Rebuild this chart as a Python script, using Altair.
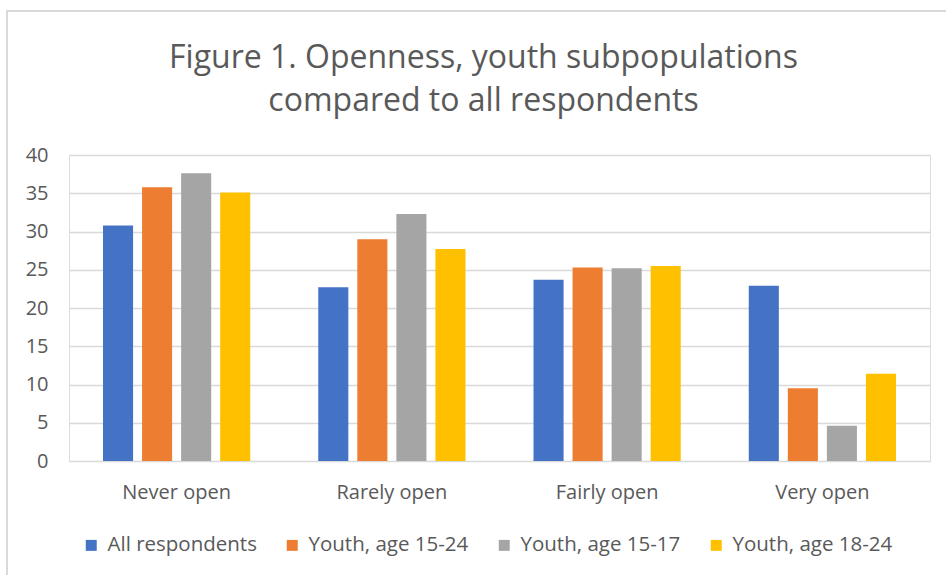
import altair as alt
import pandas as pd

# Openness categories and survey groups
categories = ["Never open", "Rarely open", "Fairly open", "Very open"]
groups = ["All respondents", "Youth, age 15-24", "Youth, age 15-17", "Youth, age 18-24"]
colors = ["#4472C4", "#ED7D31", "#A5A5A5", "#FFC000"]

# Percent of respondents per category, one list per group
all_respondents = [30.8, 22.7, 23.7, 22.9]
youth_15_24 = [35.8, 29.0, 25.3, 9.5]
youth_15_17 = [37.6, 32.3, 25.2, 4.6]
youth_18_24 = [35.1, 27.7, 25.5, 11.4]

series = [all_respondents, youth_15_24, youth_15_17, youth_18_24]
rows = []
for g, vals in zip(groups, series):
    for c, v in zip(categories, vals):
        rows.append({"category": c, "group": g, "value": v})
df = pd.DataFrame(rows)

FONT = "Open Sans"
TEXT = "#595959"

bars = alt.Chart(df).mark_bar().encode(
    x=alt.X(
        "category:N",
        sort=categories,
        title=None,
        scale=alt.Scale(paddingInner=0.316, paddingOuter=0.158),
        axis=alt.Axis(
            labelAngle=0, domain=False, ticks=False, labelPadding=21,
            labelFontSize=20, labelColor=TEXT, labelFont=FONT,
        ),
    ),
    xOffset=alt.XOffset(
        "group:N", sort=groups,
        scale=alt.Scale(paddingInner=0.23, paddingOuter=0),
    ),
    y=alt.Y(
        "value:Q",
        title=None,
        scale=alt.Scale(domain=[0, 40]),
        axis=alt.Axis(
            values=list(range(0, 41, 5)), domain=False, ticks=False,
            labelPadding=21, labelFontSize=20, labelColor=TEXT, labelFont=FONT,
            gridColor="#D9D9D9", gridWidth=1.5,
        ),
    ),
    color=alt.Color(
        "group:N",
        sort=groups,
        scale=alt.Scale(domain=groups, range=colors),
        legend=alt.Legend(
            title=None, orient="none", direction="horizontal",
            legendX=12, legendY=380,
            symbolType="square", symbolSize=120, symbolStrokeWidth=0,
            labelFontSize=20.5, labelColor=TEXT, labelFont=FONT,
            columnPadding=25, labelOffset=6,
        ),
    ),
)

# Light outer frame around the whole figure
frame = alt.Chart(alt.Data(values=[{}])).mark_rect(
    fill=None, stroke="#D9D9D9", strokeWidth=2
).encode(
    x=alt.value(-62), x2=alt.value(1000),
    y=alt.value(-144), y2=alt.value(600),
)

chart = alt.layer(frame, bars).properties(
    width=861,
    height=306,
    padding={"left": 69, "top": 155, "right": 16, "bottom": 114},
    autosize=alt.AutoSizeParams(type="none"),
    title=alt.TitleParams(
        ["Figure 1. Openness, youth subpopulations", "compared to all respondents"],
        fontSize=32, font=FONT, fontWeight="normal", color=TEXT,
        anchor="middle", baseline="bottom", dx=-16, dy=140, offset=0,
        lineHeight=43,
    ),
).configure_view(stroke=None).configure(background="white")

chart.save("out.html", embed_options={"renderer": "svg", "actions": False})
